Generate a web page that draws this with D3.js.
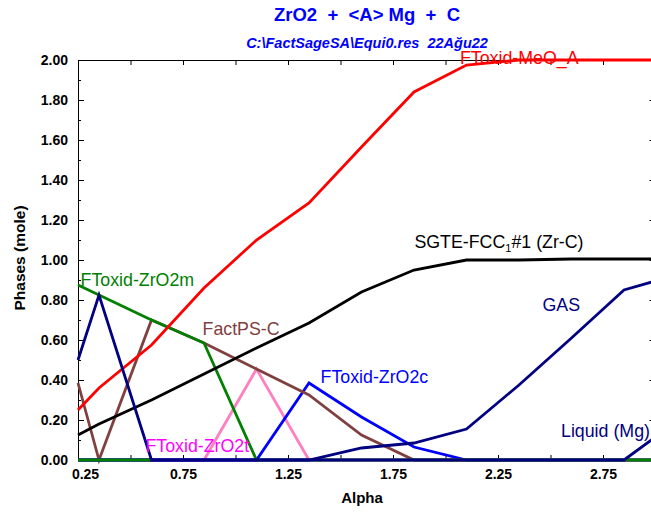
<!DOCTYPE html>
<html>
<head>
<meta charset="utf-8">
<script src="https://cdn.jsdelivr.net/npm/d3@7"></script>
<style>
  html, body { margin: 0; padding: 0; background: #fff; }
  svg { display: block; font-family: "Liberation Sans", Arial, sans-serif; }
</style>
</head>
<body>
<svg id="chart" width="651" height="514"></svg>
<script>
// ---- data ----
const alpha      = [0.25, 0.35, 0.6, 0.85, 1.1, 1.35, 1.6, 1.85, 2.1, 2.35, 2.6, 2.85, 3.0];
const meoA       = [0.25, 0.36, 0.575, 0.86, 1.10, 1.285, 1.565, 1.84, 1.975, 2.0, 2.0, 2.0, 2.0];
const fccZrC     = [0.125, 0.18, 0.30, 0.43, 0.56, 0.685, 0.84, 0.95, 1.0, 1.0, 1.005, 1.005, 1.005];
const zro2m      = [0.875, 0.825, 0.70, 0.585, 0, 0, 0, 0, 0, 0, 0, 0, 0];
const factpsC    = [0.385, 0, 0.70, 0.585, 0.455, 0.325, 0.125, 0, 0, 0, 0, 0, 0];
const zro2t      = [0, 0, 0, 0, 0.455, 0, 0, 0, 0, 0, 0, 0, 0];
const zro2c      = [0, 0, 0, 0, 0, 0.385, 0.215, 0.065, 0, 0, 0, 0, 0];
const gas        = [0, 0, 0, 0, 0, 0, 0.06, 0.085, 0.155, 0.375, 0.61, 0.85, 0.895];
const otherPhase = [0, 0, 0, null, null, null, null, null, null, null, null, null, null];
const liquidMg   = [0.5, 0.825, 0, 0, 0, 0, 0, 0, 0, 0, 0, 0, 0.115];

const xTicks = [0.25, 0.5, 0.75, 1.0, 1.25, 1.5, 1.75, 2.0, 2.25, 2.5, 2.75];
const xLabels = [0.25, 0.75, 1.25, 1.75, 2.25, 2.75];
const yMajor = [0, 0.2, 0.4, 0.6, 0.8, 1.0, 1.2, 1.4, 1.6, 1.8, 2.0];
const yMinor = [0.1, 0.3, 0.5, 0.7, 0.9, 1.1, 1.3, 1.5, 1.7, 1.9];

// draw order (later on top)
const series = [
  { name: "FToxid-ZrO2t", values: zro2t },
  { name: "FToxid-ZrO2c", values: zro2c },
  { name: "FactPS-C", values: factpsC },
  { name: "FToxid-ZrO2m", values: zro2m },
  { name: "SGTE-FCC1#1 (Zr-C)", values: fccZrC },
  { name: "FToxid-MeO_A", values: meoA },
  { name: "GAS", values: gas },
  { name: "other", values: otherPhase },
  { name: "Liquid (Mg)", values: liquidMg }
];

// labels: text, alpha position (left), value position (baseline)
const labels = [
  { name: "FToxid-MeO_A", a: 2.069, v: 1.98 },
  { name: "SGTE-FCC1#1 (Zr-C)", a: 1.852, v: 1.06 },
  { name: "GAS", a: 2.462, v: 0.745 },
  { name: "FToxid-ZrO2m", a: 0.262, v: 0.87 },
  { name: "FactPS-C", a: 0.843, v: 0.625 },
  { name: "FToxid-ZrO2c", a: 1.405, v: 0.385 },
  { name: "FToxid-ZrO2t", a: 0.571, v: 0.04 },
  { name: "Liquid (Mg)", a: 2.55, v: 0.115 }
];

// ---- styles ----
const lineColor = {
  "FToxid-ZrO2t": "#ff80c0", "FToxid-ZrO2c": "#0000ff", "FactPS-C": "#804040",
  "FToxid-ZrO2m": "#008000", "SGTE-FCC1#1 (Zr-C)": "#000000", "FToxid-MeO_A": "#ff0000",
  "GAS": "#000080", "other": "#008000", "Liquid (Mg)": "#000080"
};
const labelColor = Object.assign({}, lineColor, { "FToxid-ZrO2t": "#ff00ff" });

const svg = d3.select("#chart");
const x = d3.scaleLinear().domain([0.25, 3.0]).range([78, 655.5]);
const y = d3.scaleLinear().domain([0, 2]).range([460, 60]);

// title
svg.append("text").attr("x", 367).attr("y", 21).attr("text-anchor", "middle")
  .attr("fill", "#0000ff").attr("font-weight", "bold").attr("font-size", 18.5)
  .style("white-space", "pre").text("ZrO2  +  <A> Mg  +  C");
svg.append("text").attr("x", 367).attr("y", 48).attr("text-anchor", "middle")
  .attr("fill", "#0000ff").attr("font-weight", "bold").attr("font-style", "italic").attr("font-size", 14.5)
  .style("white-space", "pre").text("C:\\FactSageSA\\Equi0.res  22Ağu22");

// axes (drawn first, lines on top)
const axisStyle = g => { g.selectAll("path, line").attr("stroke", "#000"); };
const gL = svg.append("g").attr("transform", "translate(78,0)")
  .call(d3.axisLeft(y).tickValues(yMajor).tickSizeInner(-6).tickSizeOuter(0).tickPadding(10)
    .tickFormat(d3.format(".2f")));
gL.call(axisStyle);
gL.selectAll("text").attr("font-size", 14).attr("font-weight", "bold").attr("fill", "#000")
  .attr("font-family", "Liberation Sans, Arial, sans-serif");
svg.append("g").attr("transform", "translate(78,0)")
  .call(d3.axisLeft(y).tickValues(yMinor).tickSizeInner(-3).tickSizeOuter(0).tickFormat(""))
  .call(g => g.select(".domain").remove()).call(axisStyle);

const gR = svg.append("g").attr("transform", "translate(655.5,0)")
  .call(d3.axisRight(y).tickValues(yMajor).tickSizeInner(-6).tickSizeOuter(0).tickFormat(""));
gR.call(axisStyle);
svg.append("g").attr("transform", "translate(655.5,0)")
  .call(d3.axisRight(y).tickValues(yMinor).tickSizeInner(-3).tickSizeOuter(0).tickFormat(""))
  .call(g => g.select(".domain").remove()).call(axisStyle);

svg.append("g").attr("transform", "translate(0,60)")
  .call(d3.axisTop(x).tickValues(xTicks).tickSizeInner(-5).tickSizeOuter(0).tickFormat(""))
  .call(axisStyle);

const gB = svg.append("g").attr("transform", "translate(0,460)")
  .call(d3.axisBottom(x).tickValues(xTicks).tickSizeInner(-5).tickSizeOuter(0).tickPadding(9)
    .tickFormat(d => xLabels.includes(d) ? d3.format(".2f")(d) : ""));
gB.call(axisStyle);
gB.selectAll("text").attr("font-size", 14).attr("font-weight", "bold").attr("fill", "#000")
  .attr("font-family", "Liberation Sans, Arial, sans-serif")
  .attr("dx", d => d === xLabels[0] ? 7 : 0);

// lines
const line = d3.line().defined(d => d[1] !== null).x(d => x(d[0])).y(d => y(d[1]));
svg.append("g").selectAll("path").data(series).join("path")
  .attr("d", s => line(alpha.map((a, i) => [a, s.values[i]])))
  .attr("fill", "none").attr("stroke", s => lineColor[s.name])
  .attr("stroke-width", 2.8).attr("stroke-linejoin", "miter");

// axis titles
svg.append("text").attr("x", 362).attr("y", 503).attr("text-anchor", "middle")
  .attr("font-weight", "bold").attr("font-size", 15).text("Alpha");
svg.append("text").attr("transform", "translate(25,258) rotate(-90)").attr("text-anchor", "middle")
  .attr("font-weight", "bold").attr("font-size", 15.5).text("Phases (mole)");

// curve labels
const lg = svg.append("g").attr("font-size", 17.8);
labels.forEach(l => {
  const t = lg.append("text").attr("x", x(l.a)).attr("y", y(l.v)).attr("fill", labelColor[l.name]);
  if (l.name.startsWith("SGTE")) {
    t.append("tspan").text("SGTE-FCC");
    t.append("tspan").attr("font-size", 11).attr("dy", 4).text("1");
    t.append("tspan").attr("dy", -4).text("#1 (Zr-C)");
  } else {
    t.text(l.name);
  }
});
</script>
</body>
</html>
